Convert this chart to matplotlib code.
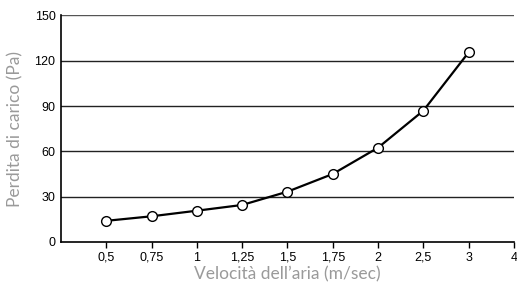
import matplotlib.pyplot as plt

# Data
velocity_labels = ['0,5', '0,75', '1', '1,25', '1,5', '1,75', '2', '2,5', '3', '4']
pressure_drop = [14, 17, 20.7, 24.5, 33.3, 45, 62.4, 86.9, 125.5]
y_ticks = [0, 30, 60, 90, 120, 150]

fig = plt.figure(figsize=(5.17, 2.85), dpi=100)
ax = fig.add_axes([0.118, 0.151, 0.876, 0.795])

positions = list(range(1, len(velocity_labels) + 1))

for y in y_ticks[1:]:
    ax.axhline(y, color='#555555' if y == 150 else '#222222', lw=1.0, zorder=1)

ax.plot(positions[:len(pressure_drop)], pressure_drop, color='black', lw=1.6,
        marker='o', markersize=7, markerfacecolor='white',
        markeredgecolor='black', markeredgewidth=1.0, zorder=3)

ax.set_xlim(0, 10)
ax.set_ylim(0, 150)
ax.set_xticks(positions)
ax.set_xticklabels(velocity_labels, fontfamily='Liberation Sans', fontsize=9)
ax.set_yticks(y_ticks)
ax.set_yticklabels([str(v) for v in y_ticks], fontfamily='Liberation Sans', fontsize=9)
ax.tick_params(axis='x', length=4, width=1, direction='out', pad=3)
ax.tick_params(axis='y', length=0, pad=4)

for s in ['top', 'right']:
    ax.spines[s].set_visible(False)
for s in ['left', 'bottom']:
    ax.spines[s].set_linewidth(1.2)
    ax.spines[s].set_color('black')

ax.set_xlabel("Velocità dell’aria (m/sec)", fontfamily='Lato',
              fontsize=12.5, color='#9a9a9a', labelpad=2)
ax.set_ylabel('Perdita di carico (Pa)', fontfamily='Lato',
              fontsize=12.5, color='#9a9a9a', labelpad=8)

fig.savefig('out.png', dpi=100)
